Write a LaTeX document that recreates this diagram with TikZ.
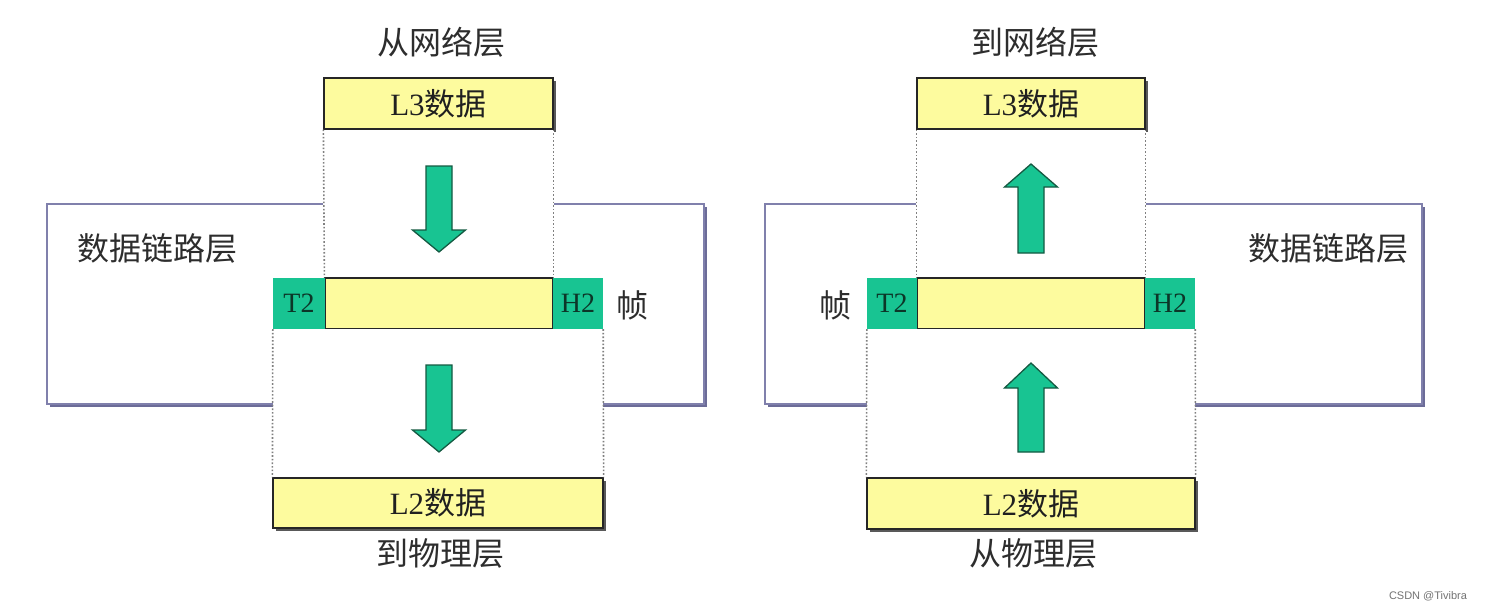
\documentclass[tikz,border=0pt]{standalone}
\usepackage{fontspec}
\setmainfont{Liberation Serif}
\newfontfamily\cjk{Noto Sans CJK SC}
\newfontfamily\wmfont{Liberation Sans}
\usetikzlibrary{shadows}
\definecolor{yel}{RGB}{253,251,158}
\definecolor{grn}{RGB}{24,196,146}
\definecolor{grnd}{RGB}{20,90,66}
\definecolor{lav}{RGB}{128,128,172}
\definecolor{lavd}{RGB}{108,108,152}
\definecolor{txt}{RGB}{45,45,45}
\tikzset{
  layerbox/.style={draw=lav, line width=2.4pt, fill=white,
    drop shadow={shadow xshift=3pt, shadow yshift=-3pt, opacity=1, fill=lavd}},
  databox/.style={fill=yel, draw=black!85, line width=1.2pt, inner sep=0pt,
    font=\fontsize{31}{36}\selectfont, text=txt!70!black,
    drop shadow={shadow xshift=3pt, shadow yshift=-3pt, opacity=1, fill=black!65}},
  paybox/.style={fill=yel, draw=black!85, line width=1.2pt, inner sep=0pt},
  tagbox/.style={fill=grn, inner sep=0pt, font=\fontsize{28}{32}\selectfont, text=grnd!60!black},
  guide/.style={draw=black!50, dotted, line width=1.6pt},
  cover/.style={fill=white},
  bigarrow/.style={fill=grn, draw=grnd, line width=1.3pt, line join=miter},
  lbl/.style={font=\cjk\fontsize{32}{36}\selectfont, text=txt},
  wm/.style={font=\wmfont\fontsize{11}{13}\selectfont, text=black!55}
}
\begin{document}
\begin{tikzpicture}[x=1pt,y=-1pt]
\useasboundingbox (0,0) rectangle (1486,611);
\fill[white] (0,0) rectangle (1486,611);

% ---------------- Left diagram ----------------
\node[layerbox, minimum width=657pt, minimum height=200pt, inner sep=0pt] (dllL) at (375.5,304) {};
\node[databox, minimum width=229pt, minimum height=51pt] (l3L) at (438.5,103.5) {L3{\cjk 数据}};
\node[paybox, minimum width=228pt, minimum height=51pt] (payL) at (439,303.5) {};
\node[tagbox, minimum width=52pt, minimum height=51pt] (t2L) at (299,303.5) {T2};
\node[tagbox, minimum width=50pt, minimum height=51pt] (h2L) at (578,303.5) {H2};
\fill[cover] (l3L.south west) rectangle (payL.north east);
\fill[cover] (t2L.south west) rectangle (h2L.south east |- 0,478);
\node[databox, minimum width=330pt, minimum height=50pt] (l2L) at (438,503) {L2{\cjk 数据}};
\draw[guide] (l3L.south west) -- (payL.north west);
\draw[guide] (l3L.south east) -- (payL.north east);
\draw[guide] (t2L.south west) -- (l2L.north west);
\draw[guide] (h2L.south east) -- (l2L.north east);
\draw[bigarrow] (426,166) -- (452,166) -- (452,230) -- (465.5,230) -- (439,252) -- (412.5,230) -- (426,230) -- cycle;
\draw[bigarrow] (426,365) -- (452,365) -- (452,430) -- (465.5,430) -- (439,452) -- (412.5,430) -- (426,430) -- cycle;
\node[lbl] (topL) at (441,42) {从网络层};
\node[lbl] (dlL) at (157,248) {数据链路层};
\node[lbl] (frL) at (632,305) {帧};
\node[lbl] (botL) at (440,553) {到物理层};

% ---------------- Right diagram ----------------
\node[layerbox, minimum width=657pt, minimum height=200pt, inner sep=0pt] (dllR) at (1093.5,304) {};
\node[databox, minimum width=228pt, minimum height=51pt] (l3R) at (1031,103.5) {L3{\cjk 数据}};
\node[paybox, minimum width=228pt, minimum height=51pt] (payR) at (1031,303.5) {};
\node[tagbox, minimum width=50pt, minimum height=51pt] (t2R) at (892,303.5) {T2};
\node[tagbox, minimum width=50pt, minimum height=51pt] (h2R) at (1170,303.5) {H2};
\fill[cover] (l3R.south west) rectangle (payR.north east);
\fill[cover] (t2R.south west) rectangle (h2R.south east |- 0,478);
\node[databox, minimum width=328pt, minimum height=51pt] (l2R) at (1031,503.5) {L2{\cjk 数据}};
\draw[guide] (l3R.south west) -- (payR.north west);
\draw[guide] (l3R.south east) -- (payR.north east);
\draw[guide] (t2R.south west) -- (l2R.north west);
\draw[guide] (h2R.south east) -- (l2R.north east);
\draw[bigarrow] (1018,253) -- (1044,253) -- (1044,187) -- (1057.5,187) -- (1031,164) -- (1004.5,187) -- (1018,187) -- cycle;
\draw[bigarrow] (1018,452) -- (1044,452) -- (1044,388) -- (1057.5,388) -- (1031,363) -- (1004.5,388) -- (1018,388) -- cycle;
\node[lbl] (topR) at (1035,42) {到网络层};
\node[lbl] (dlR) at (1328,248) {数据链路层};
\node[lbl] (frR) at (835,305) {帧};
\node[lbl] (botR) at (1033,553) {从物理层};

\node[wm] (wmk) at (1428,596) {CSDN @Tivibra};
\end{tikzpicture}
\end{document}
